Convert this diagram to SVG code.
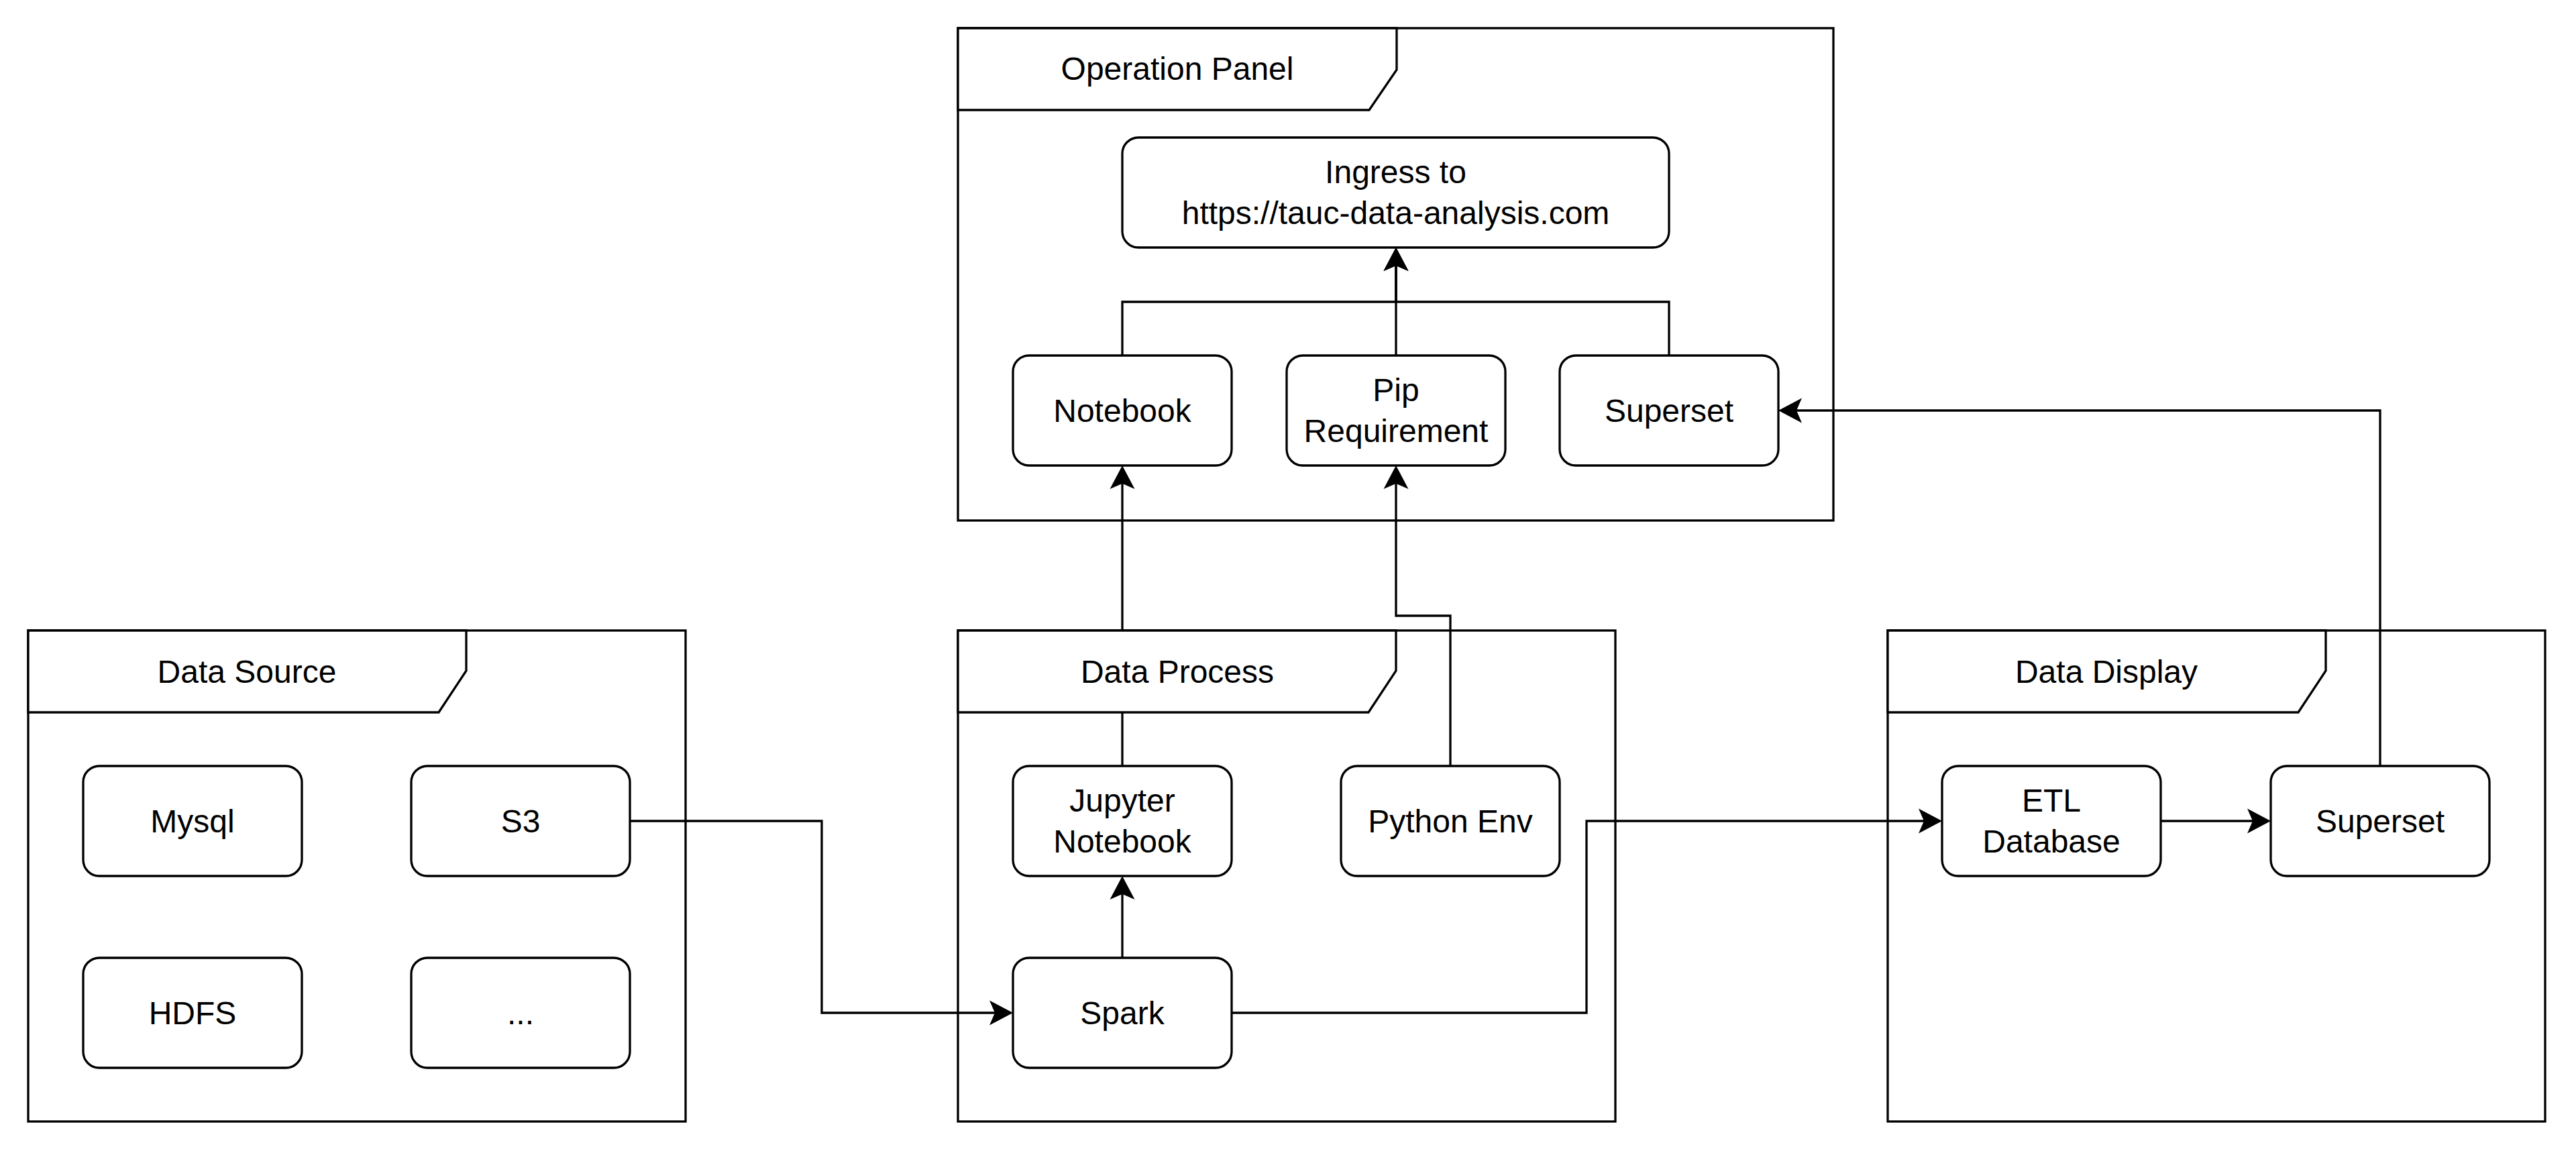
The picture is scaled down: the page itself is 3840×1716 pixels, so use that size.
<svg xmlns="http://www.w3.org/2000/svg" width="3840" height="1716" viewBox="0 0 3840 1716">
<style>
.frame{fill:none;stroke:#000;stroke-width:3.3}
.tab{fill:#fff;stroke:#000;stroke-width:3.3}
.box{fill:#fff;stroke:#000;stroke-width:3.3}
.edge{fill:none;stroke:#000;stroke-width:3.3}
text{font-family:"Liberation Sans",Helvetica,Arial,sans-serif;font-size:48px;fill:#000;text-anchor:middle}
</style>
<defs>
<marker id="arr" markerUnits="userSpaceOnUse" viewBox="0 -20 36 40" markerWidth="36" markerHeight="40" refX="27" refY="0" orient="auto">
<path d="M35,0 L0,-18.5 L8,0 L0,18.5 Z" fill="#000"/>
</marker>
</defs>
<rect width="3840" height="1716" fill="#fff"/>

<g id="connectors">
<path class="edge" d="M1673,530 V450 H2081 V377" marker-end="url(#arr)"/>
<path class="edge" d="M2488,530 V450 H2081 V377" marker-end="url(#arr)"/>
<path class="edge" d="M2081,530 V377" marker-end="url(#arr)"/>
<path class="edge" d="M939,1224 H1225 V1510 H1502" marker-end="url(#arr)"/>
<path class="edge" d="M1673,1428 V1314" marker-end="url(#arr)"/>
<path class="edge" d="M1673,1142 V702" marker-end="url(#arr)"/>
<path class="edge" d="M2162,1142 V918 H2081 V702" marker-end="url(#arr)"/>
<path class="edge" d="M1836,1510 H2365 V1224 H2887" marker-end="url(#arr)"/>
<path class="edge" d="M3221,1224 H3377" marker-end="url(#arr)"/>
<path class="edge" d="M3548,1142 V612 H2659" marker-end="url(#arr)"/>
</g>

<g id="frame-operation-panel">
<rect class="frame" x="1428" y="42" width="1305" height="734"/>
<path class="tab" d="M1428,42 V164 H2041 L2082,104 V42 Z"/>
<text x="1755" y="119">Operation Panel</text>
</g>
<g id="frame-data-source">
<rect class="frame" x="42" y="940" width="980" height="732"/>
<path class="tab" d="M42,940 V1062 H654 L695,1000 V940 Z"/>
<text x="368" y="1018">Data Source</text>
</g>
<g id="frame-data-process">
<rect class="frame" x="1428" y="940" width="980" height="732"/>
<path class="tab" d="M1428,940 V1062 H2040 L2081,1000 V940 Z"/>
<text x="1755" y="1018">Data Process</text>
</g>
<g id="frame-data-display">
<rect class="frame" x="2814" y="940" width="980" height="732"/>
<path class="tab" d="M2814,940 V1062 H3426 L3467,1000 V940 Z"/>
<text x="3140" y="1018">Data Display</text>
</g>

<g id="node-ingress">
<rect class="box" x="1673" y="205" width="815" height="164" rx="24"/>
<text x="2080.5" y="273">Ingress to</text>
<text x="2080.5" y="334">https://tauc-data-analysis.com</text>
</g>
<g id="node-notebook">
<rect class="box" x="1510" y="530" width="326" height="164" rx="24"/>
<text x="1673" y="629">Notebook</text>
</g>
<g id="node-pip">
<rect class="box" x="1918" y="530" width="326" height="164" rx="24"/>
<text x="2081" y="598">Pip</text>
<text x="2081" y="659">Requirement</text>
</g>
<g id="node-superset-panel">
<rect class="box" x="2325" y="530" width="326" height="164" rx="24"/>
<text x="2488" y="629">Superset</text>
</g>
<g id="node-mysql">
<rect class="box" x="124" y="1142" width="326" height="164" rx="24"/>
<text x="287" y="1241">Mysql</text>
</g>
<g id="node-s3">
<rect class="box" x="613" y="1142" width="326" height="164" rx="24"/>
<text x="776" y="1241">S3</text>
</g>
<g id="node-hdfs">
<rect class="box" x="124" y="1428" width="326" height="164" rx="24"/>
<text x="287" y="1527">HDFS</text>
</g>
<g id="node-more">
<rect class="box" x="613" y="1428" width="326" height="164" rx="24"/>
<text x="776" y="1527">...</text>
</g>
<g id="node-jupyter">
<rect class="box" x="1510" y="1142" width="326" height="164" rx="24"/>
<text x="1673" y="1210">Jupyter</text>
<text x="1673" y="1271">Notebook</text>
</g>
<g id="node-python-env">
<rect class="box" x="1999" y="1142" width="326" height="164" rx="24"/>
<text x="2162" y="1241">Python Env</text>
</g>
<g id="node-spark">
<rect class="box" x="1510" y="1428" width="326" height="164" rx="24"/>
<text x="1673" y="1527">Spark</text>
</g>
<g id="node-etl">
<rect class="box" x="2895" y="1142" width="326" height="164" rx="24"/>
<text x="3058" y="1210">ETL</text>
<text x="3058" y="1271">Database</text>
</g>
<g id="node-superset-display">
<rect class="box" x="3385" y="1142" width="326" height="164" rx="24"/>
<text x="3548" y="1241">Superset</text>
</g>
</svg>
